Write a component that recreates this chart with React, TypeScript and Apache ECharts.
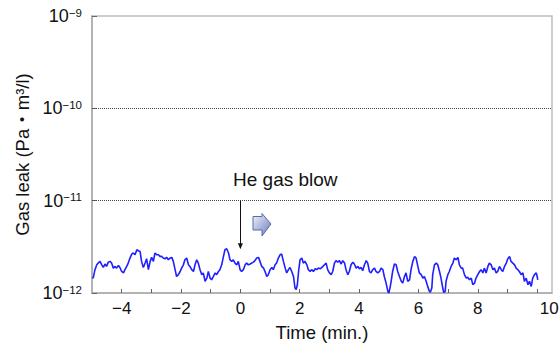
import { useEffect, useRef } from "react";
import * as echarts from "echarts";

const FONT = "'Liberation Sans', Arial, 'Noto Sans CJK JP', sans-serif";

const xMin = -5;
const xMax = 10.5;
const yMin = 1e-12;
const yMax = 1e-9;
const xLabelValues = [-4, -2, 0, 2, 4, 6, 8, 10];
const gridLineValues = [1e-11, 1e-10];
const xName = "Time (min.)";
const yName = "Gas leak (Pa・m³/l)";
const annotationText = "He gas blow";
const blowTime = 0;
const blowArrowFrom = 1e-11;
const blowArrowTo = 3.2e-12;
const unit = 1e-12;

// [time (min), leak in units of 1e-12 Pa·m³/l]
const leakBefore: [number, number][] = [
  [-4.99, 1.48], [-4.96, 1.45], [-4.9, 1.79], [-4.84, 2.02], [-4.79, 2.11], [-4.73, 2.2], [-4.67, 2.02], [-4.62, 1.89],
  [-4.56, 2.06], [-4.51, 1.94], [-4.45, 2.16], [-4.39, 2.2], [-4.34, 2.11], [-4.28, 1.86], [-4.22, 1.94], [-4.17, 1.86],
  [-4.11, 1.99], [-4.06, 1.89], [-4.0, 1.71], [-3.94, 1.65], [-3.89, 1.79], [-3.83, 1.94], [-3.78, 2.11], [-3.72, 2.39],
  [-3.66, 2.64], [-3.61, 2.71], [-3.55, 2.6], [-3.49, 2.94], [-3.44, 2.87], [-3.38, 2.82], [-3.33, 2.2], [-3.27, 1.89],
  [-3.21, 2.11], [-3.16, 2.35], [-3.1, 1.79], [-3.04, 2.2], [-2.99, 2.43], [-2.93, 2.2], [-2.88, 2.71], [-2.82, 2.6],
  [-2.76, 2.6], [-2.71, 2.49], [-2.65, 2.49], [-2.6, 2.39], [-2.54, 2.35], [-2.48, 2.43], [-2.43, 2.29], [-2.37, 2.39],
  [-2.31, 2.43], [-2.26, 2.2], [-2.2, 1.79], [-2.15, 1.51], [-2.09, 1.58], [-2.03, 1.71], [-1.98, 1.86], [-1.92, 2.02],
  [-1.87, 2.29], [-1.81, 2.39], [-1.75, 2.02], [-1.7, 1.94], [-1.64, 1.79], [-1.58, 1.71], [-1.53, 2.02], [-1.47, 2.29],
  [-1.42, 2.11], [-1.36, 1.79], [-1.3, 1.58], [-1.25, 1.65], [-1.19, 1.34], [-1.13, 1.45], [-1.08, 1.71], [-1.02, 1.45],
  [-0.97, 1.39], [-0.91, 1.51], [-0.85, 1.65], [-0.8, 1.58], [-0.74, 1.71], [-0.69, 1.79], [-0.63, 2.02], [-0.57, 2.49],
  [-0.52, 2.94], [-0.46, 3.02], [-0.4, 2.71], [-0.35, 2.29], [-0.29, 2.2], [-0.24, 2.29], [-0.18, 2.11], [-0.12, 2.02],
  [-0.07, 2.2], [-0.01, 1.79],
];

const leakAfter: [number, number][] = [
  [0.04, 1.71], [0.1, 1.79], [0.16, 2.02], [0.21, 2.11], [0.27, 2.02], [0.33, 2.06], [0.38, 2.11], [0.44, 2.16],
  [0.49, 2.24], [0.55, 2.39], [0.61, 2.43], [0.66, 2.2], [0.72, 1.94], [0.78, 1.86], [0.83, 1.71], [0.89, 1.51],
  [0.94, 1.58], [1.0, 1.79], [1.06, 1.89], [1.11, 1.79], [1.17, 2.02], [1.22, 2.11], [1.28, 2.39], [1.34, 2.6],
  [1.39, 2.64], [1.45, 2.2], [1.51, 1.86], [1.56, 1.65], [1.62, 1.79], [1.67, 1.89], [1.73, 1.71], [1.79, 1.51],
  [1.84, 1.13], [1.88, 1.09], [1.92, 1.23], [1.96, 1.71], [2.01, 2.29], [2.07, 2.39], [2.12, 2.11], [2.18, 2.2],
  [2.24, 2.02], [2.29, 1.79], [2.35, 1.71], [2.4, 1.79], [2.46, 1.71], [2.52, 1.83], [2.57, 1.79], [2.63, 1.86],
  [2.69, 1.83], [2.72, 1.86], [2.78, 1.94], [2.83, 2.02], [2.89, 2.11], [2.94, 1.79], [3.0, 1.65], [3.06, 1.58],
  [3.11, 1.71], [3.17, 2.11], [3.22, 2.24], [3.28, 2.16], [3.34, 2.24], [3.39, 2.06], [3.45, 2.24], [3.51, 2.11],
  [3.56, 1.79], [3.62, 1.58], [3.67, 1.71], [3.73, 2.02], [3.79, 2.16], [3.84, 2.06], [3.9, 1.86], [3.96, 1.94],
  [4.01, 1.83], [4.07, 1.89], [4.12, 1.74], [4.18, 2.02], [4.24, 2.24], [4.29, 2.11], [4.35, 1.71], [4.4, 1.65],
  [4.46, 1.79], [4.52, 1.86], [4.57, 1.71], [4.63, 1.65], [4.69, 1.71], [4.74, 1.86], [4.8, 1.79], [4.85, 1.51],
  [4.91, 1.28], [4.97, 1.04], [5.0, 1.0], [5.04, 1.13], [5.08, 1.34], [5.13, 1.71], [5.19, 2.06], [5.25, 2.02],
  [5.3, 1.71], [5.36, 1.51], [5.42, 1.34], [5.47, 1.28], [5.53, 1.51], [5.58, 1.65], [5.64, 1.34], [5.7, 1.39],
  [5.75, 1.79], [5.81, 2.2], [5.87, 2.49], [5.92, 2.39], [5.98, 1.94], [6.03, 1.65], [6.09, 1.58], [6.15, 1.45],
  [6.2, 1.51], [6.26, 1.34], [6.31, 1.18], [6.37, 1.04], [6.4, 1.02], [6.45, 1.13], [6.48, 1.58], [6.54, 2.02],
  [6.6, 2.11], [6.65, 2.02], [6.71, 1.71], [6.76, 1.45], [6.82, 1.13], [6.85, 1.02], [6.9, 1.04], [6.93, 1.34],
  [6.99, 1.58], [7.04, 1.71], [7.1, 1.94], [7.16, 2.11], [7.21, 2.39], [7.27, 2.29], [7.33, 2.43], [7.38, 2.02],
  [7.44, 1.86], [7.49, 1.86], [7.55, 1.58], [7.61, 1.45], [7.66, 1.48], [7.72, 1.39], [7.78, 1.45], [7.83, 1.23],
  [7.89, 1.28], [7.94, 1.45], [8.0, 1.58], [8.06, 1.71], [8.11, 1.79], [8.17, 1.65], [8.22, 1.86], [8.28, 1.65],
  [8.34, 1.94], [8.39, 2.11], [8.45, 2.02], [8.51, 1.79], [8.56, 1.86], [8.62, 1.65], [8.67, 1.71], [8.73, 1.94],
  [8.79, 1.79], [8.84, 1.71], [8.9, 1.94], [8.96, 2.11], [9.01, 2.35], [9.07, 2.49], [9.12, 2.2], [9.18, 2.11],
  [9.24, 2.02], [9.29, 1.86], [9.35, 1.79], [9.4, 1.71], [9.46, 1.58], [9.52, 1.65], [9.57, 1.34], [9.63, 1.45],
  [9.69, 1.23], [9.74, 1.34], [9.8, 1.18], [9.85, 1.45], [9.91, 1.58], [9.97, 1.65], [10.0, 1.51], [10.02, 1.39],
];

function fmtX(v: number): string {
  if (!xLabelValues.includes(v)) return "";
  const s = String(v).replace("-", "\u2212");
  return v === 10 ? `{last|${s}}` : s;
}

function fmtY(v: number): string {
  const e = Math.round(Math.log10(v));
  return `{b|10}{s|\u2212${-e}}`;
}

export default function App() {
  const ref = useRef<HTMLDivElement>(null);

  useEffect(() => {
    if (!ref.current) return;
    const chart = echarts.init(ref.current, null, { renderer: "svg" });
    const data = [...leakBefore, ...leakAfter].map(([t, v]) => [t, v * unit]);
    const axisColor = "#aaaaaa";
    const gridMarks = gridLineValues.map((v) => [
      { coord: [xMin, v], symbol: "none", lineStyle: { color: "#444", width: 1, type: [1, 1] } },
      { coord: [xMax, v], symbol: "none" },
    ]);
    chart.setOption({
      animation: false,
      textStyle: { fontFamily: FONT },
      grid: {
        left: 92,
        right: 8,
        top: 16,
        bottom: 51,
        show: true,
        borderColor: "#bdbdbd",
        borderWidth: 1.5,
        backgroundColor: "transparent",
        containLabel: false,
        outerBoundsMode: "none",
      },
      xAxis: {
        type: "value",
        min: xMin,
        max: xMax,
        interval: 1,
        name: xName,
        nameLocation: "middle",
        nameGap: 30,
        nameTextStyle: { fontSize: 18.5, color: "#111", fontFamily: FONT },
        axisLine: { show: true, onZero: false, lineStyle: { color: axisColor, width: 1.5 } },
        axisTick: { show: true, inside: true, length: 4, lineStyle: { color: "#666", width: 1 } },
        axisLabel: {
          fontSize: 17,
          color: "#111",
          margin: 7,
          fontFamily: FONT,
          showMinLabel: false,
          showMaxLabel: false,
          formatter: fmtX,
          rich: {
            last: { fontSize: 17, color: "#111", fontFamily: FONT, padding: [0, 0, 0, 24] },
          },
        },
        splitLine: { show: false },
      },
      yAxis: {
        type: "log",
        logBase: 10,
        min: yMin,
        max: yMax,
        name: yName,
        nameLocation: "middle",
        nameGap: 53,
        nameRotate: 90,
        nameTextStyle: { fontSize: 18.5, color: "#111", fontFamily: FONT },
        axisLine: { show: true, onZero: false, lineStyle: { color: axisColor, width: 1.5 } },
        axisTick: { show: true, inside: true, length: 5, lineStyle: { color: "#666", width: 1 } },
        axisLabel: {
          margin: 10,
          color: "#111",
          formatter: fmtY,
          rich: {
            b: { fontSize: 18, color: "#111", fontFamily: FONT, lineHeight: 18, verticalAlign: "bottom" },
            s: { fontSize: 11.5, color: "#111", fontFamily: FONT, lineHeight: 12, padding: [0, 0, 10, 0], verticalAlign: "top" },
          },
        },
        splitLine: { show: false },
      },
      series: [
        {
          type: "line",
          data,
          showSymbol: false,
          symbol: "none",
          lineStyle: { color: "#1f1fff", width: 1.6 },
          itemStyle: { color: "#1f1fff" },
          z: 3,
          markLine: {
            silent: true,
            symbol: "none",
            label: { show: false },
            lineStyle: { color: "#111", width: 1, type: "solid" },
            itemStyle: { color: "#111" },
            data: [
              ...gridMarks,
              [
                { coord: [blowTime, blowArrowFrom], symbol: "none" },
                { coord: [blowTime, blowArrowTo], symbol: "triangle", symbolSize: [5, 6] },
              ],
            ],
          },
        },
      ],
      graphic: [
        {
          type: "text",
          left: 233,
          top: 170,
          style: { text: annotationText, fontSize: 19, fill: "#111", fontFamily: FONT },
        },
        {
          type: "polygon",
          shape: {
            points: [
              [253, 216.5],
              [262, 216.5],
              [262, 213.5],
              [271, 224],
              [262, 236],
              [262, 230],
              [253, 230],
            ],
          },
          style: {
            fill: new echarts.graphic.LinearGradient(0, 0, 1, 1, [
              { offset: 0, color: "#f2f4fc" },
              { offset: 1, color: "#6a78c0" },
            ]),
            stroke: "#5c68a8",
            lineWidth: 1,
          },
        },
      ],
    });
    return () => chart.dispose();
  }, []);

  return (
    <div
      ref={ref}
      style={{ position: "fixed", left: 0, top: 0, width: 560, height: 344, background: "#fff" }}
    />
  );
}
